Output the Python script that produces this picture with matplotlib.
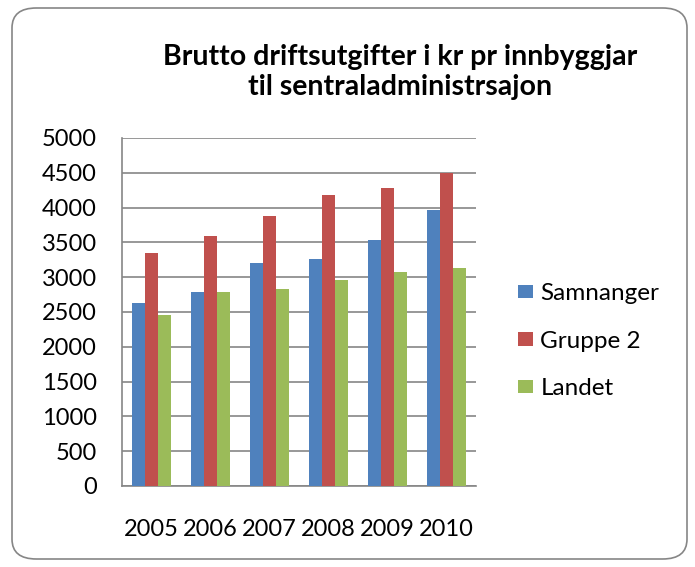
import numpy as np
import matplotlib.pyplot as plt
from matplotlib.patches import FancyBboxPatch, Patch

# data
years = ["2005", "2006", "2007", "2008", "2009", "2010"]
samnanger = [2630, 2790, 3205, 3260, 3540, 3960]
gruppe2 = [3350, 3585, 3885, 4175, 4285, 4490]
landet = [2450, 2790, 2825, 2960, 3075, 3130]
series_names = ["Samnanger", "Gruppe 2", "Landet"]
colors = ["#4F81BD", "#C0504D", "#9BBB59"]

plt.rcParams["font.family"] = ["Lato", "DejaVu Sans"]

fig = plt.figure(figsize=(6.95, 5.67), dpi=100)

# rounded outer frame
frame = FancyBboxPatch(
    (12 / 695, 8 / 567), 675 / 695, 551 / 567,
    boxstyle="round,pad=0,rounding_size=0.035",
    transform=fig.transFigure, facecolor="white",
    edgecolor="#868686", linewidth=1.2, zorder=-10,
)
fig.patches.append(frame)

ax = fig.add_axes([122 / 695, 81 / 567, 354 / 695, 348 / 567])
ax.set_facecolor("none")

x = np.arange(len(years))
w = 0.222
for i, (vals, name, c) in enumerate(zip([samnanger, gruppe2, landet], series_names, colors)):
    ax.bar(x + (i - 1) * w, vals, width=w, color=c, label=name, zorder=3)

ax.set_xlim(-0.5, len(years) - 0.5)
ax.set_ylim(0, 5000)
ax.set_yticks(np.arange(0, 5001, 500))
ax.set_xticks(x)
ax.set_xticklabels(years)
ax.yaxis.grid(True, color="#868686", linewidth=1.2, zorder=0)
ax.tick_params(axis="both", length=0, labelsize=17, colors="black")
ax.tick_params(axis="x", pad=24)
ax.tick_params(axis="y", pad=18)
for s in ["top", "right"]:
    ax.spines[s].set_visible(False)
for s in ["left", "bottom"]:
    ax.spines[s].set_color("#868686")
    ax.spines[s].set_linewidth(1.2)

handles = [Patch(facecolor=c) for c in colors]
fig.legend(
    handles, series_names, loc="center left",
    bbox_to_anchor=(518 / 695, 1 - 341 / 567),
    frameon=False, fontsize=17.5, handlelength=0.62, handleheight=0.49,
    handletextpad=0.3, labelspacing=1.09, borderpad=0, borderaxespad=0,
)

fig.text(
    400 / 695, 1 - 72 / 567,
    "Brutto driftsutgifter i kr pr innbyggjar\ntil sentraladministrsajon",
    ha="center", va="center", fontsize=20.5, fontweight="bold",
    linespacing=1.2,
)

fig.savefig("out.png", dpi=100)
